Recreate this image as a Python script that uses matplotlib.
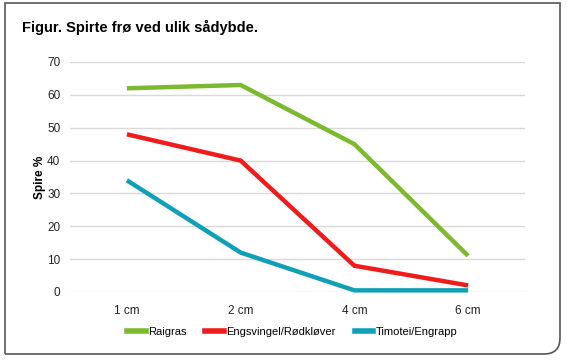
import matplotlib.pyplot as plt
from matplotlib.path import Path
import matplotlib.patches as mpatches
from matplotlib.lines import Line2D

plt.rcParams['font.family'] = ['Liberation Sans', 'DejaVu Sans']

depths = ['1 cm', '2 cm', '4 cm', '6 cm']
raigras = [62, 63, 45, 11]
engsvingel = [48, 40, 8, 2]
timotei = [34, 12, 0.5, 0.5]

series = [
    ('Raigras', raigras, '#7CB92F'),
    ('Engsvingel/Rødkløver', engsvingel, '#F01C1C'),
    ('Timotei/Engrapp', timotei, '#0FA0B8'),
]

fig = plt.figure(figsize=(5.67, 3.62), dpi=100)

# frame around figure, rounded bottom-right corner
W, H = 567, 362
x0, y0, x1, y1, r = 5, 3, 560, 354, 16
verts = [(x0, y1), (x0, y0), (x1, y0), (x1, y1 - r),
         (x1, y1), (x1 - r, y1), (x0, y1)]
codes = [Path.MOVETO, Path.LINETO, Path.LINETO, Path.LINETO,
         Path.CURVE3, Path.CURVE3, Path.LINETO]
verts = [(vx / W, 1 - vy / H) for vx, vy in verts]
frame = mpatches.PathPatch(Path(verts, codes), facecolor='none',
                           edgecolor='#555555', lw=1.2,
                           transform=fig.transFigure)
fig.patches.append(frame)

fig.text(22 / W, 1 - 27 / H, 'Figur. Spirte frø ved ulik sådybde.',
         fontsize=10.5, fontweight='bold', va='center', ha='left')

ax = fig.add_axes([70 / W, 1 - 292 / H, 455 / W, 230 / H])
x = range(len(depths))
for name, vals, col in series:
    ax.plot(x, vals, color=col, lw=3.2, label=name, clip_on=False,
            solid_capstyle='butt', solid_joinstyle='miter', zorder=3)

ax.set_xlim(-0.5, len(depths) - 0.5)
ax.set_ylim(0, 70)
ax.set_yticks(range(0, 71, 10))
ax.set_xticks(list(x))
ax.set_xticklabels(depths)
ax.grid(axis='y', color='#d9d9d9', lw=1)
ax.set_axisbelow(True)
for s in ax.spines.values():
    s.set_visible(False)
ax.tick_params(length=0, labelsize=8.5, colors='#222222')
ax.tick_params(axis='x', pad=9)
ax.tick_params(axis='y', pad=7)
ax.set_ylabel('Spire %', fontsize=8.5, fontweight='bold', labelpad=1)

handles = [Line2D([], [], color=c, lw=4) for _, _, c in series]
fig.legend(handles, [n for n, _, _ in series], loc='center',
           bbox_to_anchor=(292 / W, 1 - 332 / H), ncol=3, frameon=False,
           fontsize=8, handlelength=1.7, handletextpad=0.2,
           columnspacing=1.7)

fig.savefig('out.png', dpi=100)
